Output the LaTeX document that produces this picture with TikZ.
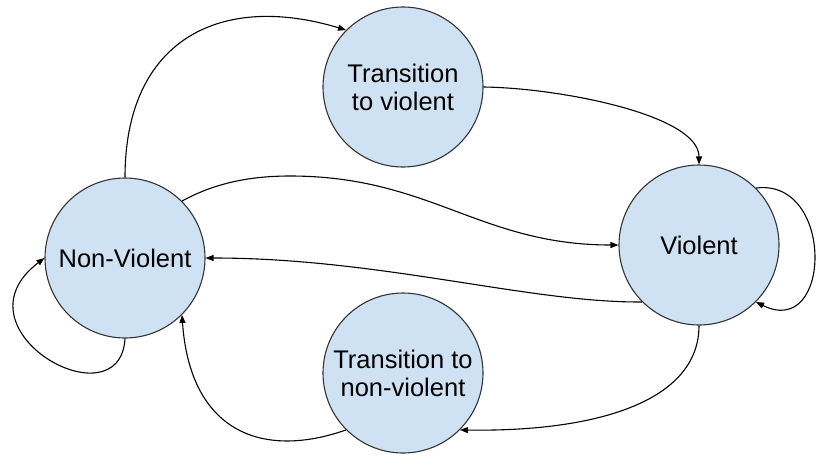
\documentclass[tikz,border=0pt]{standalone}
\usepackage{fontspec}
\setmainfont{Liberation Sans}
\usetikzlibrary{arrows.meta}
\definecolor{stfill}{HTML}{CFE2F3}
\tikzset{
  state/.style ={circle, draw=black!80, fill=stfill, line width=1.1pt,
                 minimum size=160pt, inner sep=0pt, align=center,
                 font=\fontsize{25.5}{28}\selectfont},
  fl/.style    ={-{Triangle[length=8pt,width=6pt]}, line width=1.1pt}
}

\begin{document}
\begin{tikzpicture}[x=1pt,y=1pt]
  \useasboundingbox (0,0) rectangle (819,-456);

  % states
  \node[state](nv) at (125,-258){Non-Violent};
  \node[state](tv) at (403,-87){Transition\\to violent};
  \node[state](v)  at (699,-245){Violent};
  \node[state](tn) at (403,-373){Transition to\\non-violent};

  % upper route
  \draw[fl](nv.north) .. controls (125,-40) and (220,8) .. (tv.135);
  \draw[fl](tv.east) .. controls (560,-88) and (699,-115) .. (v.north);
  \draw[fl](nv.45) .. controls (215,-183) and (250,-176) .. (290,-176)
        .. controls (430,-176) and (480,-245) .. (v.west);

  % lower route
  \draw[fl](v.225) .. controls (530,-303) and (380,-258) .. (nv.east);
  \draw[fl](v.south) .. controls (699,-400) and (600,-432) .. (tn.-45);
  \draw[fl](tn.225) .. controls (260,-460) and (190,-430) .. (nv.-45);

  % self loops
  \draw[fl](nv.south) .. controls (120,-425) and (-50,-330) .. (nv.west);
  \draw[fl](v.45) .. controls (835,-178) and (832,-340) .. (v.-45);
\end{tikzpicture}
\end{document}
